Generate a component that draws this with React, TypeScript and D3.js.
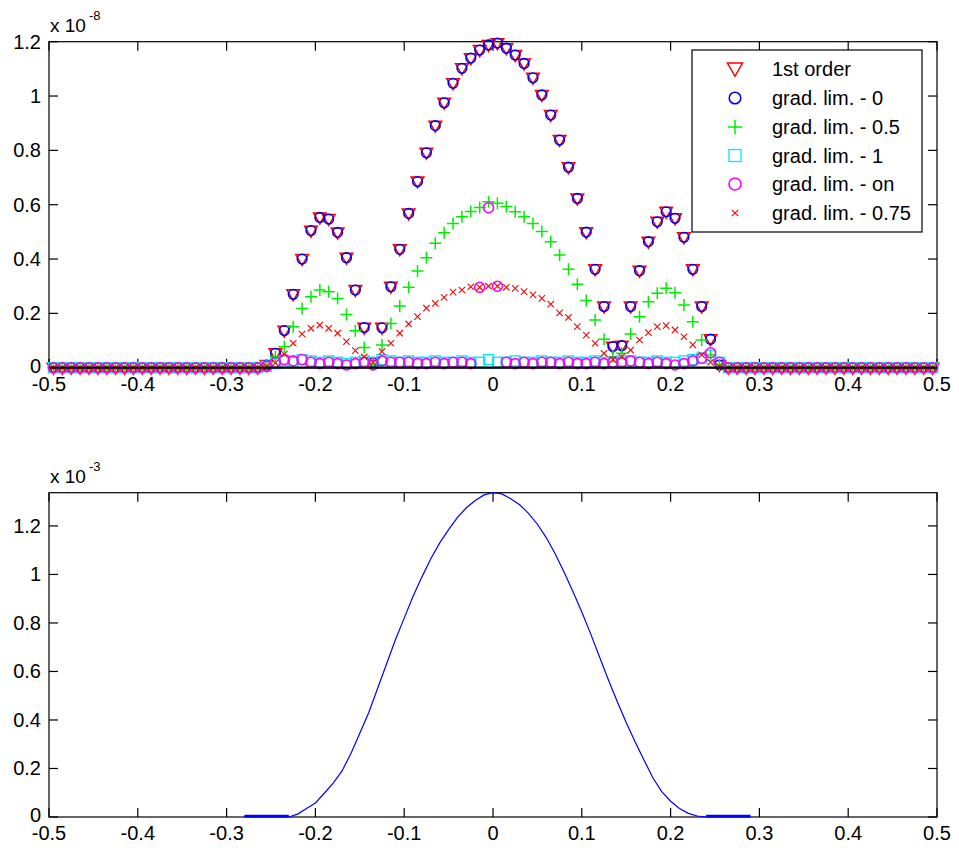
import React from "react";
import * as d3 from "d3";

// x grid: cell centres -0.495 .. 0.495 (step 0.01)
const xCells = [
  -0.495, -0.485, -0.475, -0.465, -0.455, -0.445, -0.435, -0.425, -0.415, -0.405,
  -0.395, -0.385, -0.375, -0.365, -0.355, -0.345, -0.335, -0.325, -0.315, -0.305,
  -0.295, -0.285, -0.275, -0.265, -0.255, -0.245, -0.235, -0.225, -0.215, -0.205,
  -0.195, -0.185, -0.175, -0.165, -0.155, -0.145, -0.135, -0.125, -0.115, -0.105,
  -0.095, -0.085, -0.075, -0.065, -0.055, -0.045, -0.035, -0.025, -0.015, -0.005,
  0.005, 0.015, 0.025, 0.035, 0.045, 0.055, 0.065, 0.075, 0.085, 0.095,
  0.105, 0.115, 0.125, 0.135, 0.145, 0.155, 0.165, 0.175, 0.185, 0.195,
  0.205, 0.215, 0.225, 0.235, 0.245, 0.255, 0.265, 0.275, 0.285, 0.295,
  0.305, 0.315, 0.325, 0.335, 0.345, 0.355, 0.365, 0.375, 0.385, 0.395,
  0.405, 0.415, 0.425, 0.435, 0.445, 0.455, 0.465, 0.475, 0.485, 0.495,
];

// values in units of 1e-8
const firstOrder = [
  0, 0, 0, 0, 0, 0, 0, 0, 0, 0,
  0, 0, 0, 0, 0, 0, 0, 0, 0, 0,
  0, 0, 0, 0, 0.01, 0.053, 0.136, 0.27, 0.4, 0.504,
  0.553, 0.547, 0.498, 0.405, 0.286, 0.147, 0.02, 0.147, 0.298, 0.436,
  0.568, 0.685, 0.791, 0.891, 0.975, 1.047, 1.102, 1.139, 1.169, 1.188,
  1.194, 1.176, 1.151, 1.12, 1.067, 1.004, 0.93, 0.838, 0.738, 0.623,
  0.499, 0.362, 0.225, 0.077, 0.081, 0.225, 0.357, 0.464, 0.537, 0.574,
  0.55, 0.48, 0.362, 0.225, 0.105, 0.01, 0, 0, 0, 0,
  0, 0, 0, 0, 0, 0, 0, 0, 0, 0,
  0, 0, 0, 0, 0, 0, 0, 0, 0, 0,
];
const gradLim0 = [
  0, 0, 0, 0, 0, 0, 0, 0, 0, 0,
  0, 0, 0, 0, 0, 0, 0, 0, 0, 0,
  0, 0, 0, 0, 0.01, 0.053, 0.137, 0.27, 0.4, 0.505,
  0.553, 0.547, 0.498, 0.405, 0.286, 0.148, 0.02, 0.147, 0.298, 0.436,
  0.568, 0.685, 0.791, 0.891, 0.975, 1.047, 1.102, 1.14, 1.169, 1.188,
  1.195, 1.176, 1.151, 1.12, 1.067, 1.004, 0.93, 0.838, 0.738, 0.623,
  0.499, 0.362, 0.225, 0.078, 0.081, 0.225, 0.357, 0.464, 0.537, 0.574,
  0.55, 0.48, 0.362, 0.225, 0.105, 0.01, 0, 0, 0, 0,
  0, 0, 0, 0, 0, 0, 0, 0, 0, 0,
  0, 0, 0, 0, 0, 0, 0, 0, 0, 0,
];
const gradLim05 = [
  0, 0, 0, 0, 0, 0, 0, 0, 0, 0,
  0, 0, 0, 0, 0, 0, 0, 0, 0, 0,
  0, 0, 0, 0, 0.01, 0.04, 0.077, 0.151, 0.218, 0.261,
  0.286, 0.28, 0.255, 0.196, 0.136, 0.074, 0.01, 0.084, 0.163, 0.227,
  0.296, 0.356, 0.405, 0.458, 0.497, 0.531, 0.556, 0.575, 0.59, 0.611,
  0.605, 0.593, 0.574, 0.556, 0.531, 0.501, 0.464, 0.415, 0.362, 0.307,
  0.247, 0.176, 0.105, 0.04, 0.053, 0.124, 0.188, 0.243, 0.274, 0.292,
  0.276, 0.231, 0.169, 0.102, 0.047, 0.01, 0, 0, 0, 0,
  0, 0, 0, 0, 0, 0, 0, 0, 0, 0,
  0, 0, 0, 0, 0, 0, 0, 0, 0, 0,
];
const gradLim1 = [
  0, 0, 0, 0, 0, 0, 0, 0, 0, 0,
  0, 0, 0, 0, 0, 0, 0, 0, 0, 0,
  0, 0, 0, 0, 0.005, 0.015, 0.025, 0.02, 0.03, 0.025,
  0.02, 0.025, 0.02, 0.015, 0.02, 0.025, 0.02, 0.03, 0.025, 0.02,
  0.025, 0.02, 0.02, 0.025, 0.02, 0.02, 0.025, 0.02, 0.02, 0.03,
  0.02, 0.02, 0.025, 0.02, 0.02, 0.025, 0.02, 0.02, 0.025, 0.02,
  0.02, 0.025, 0.02, 0.02, 0.025, 0.025, 0.02, 0.02, 0.025, 0.02,
  0.02, 0.025, 0.03, 0.035, 0.045, 0.02, 0, 0, 0, 0,
  0, 0, 0, 0, 0, 0, 0, 0, 0, 0,
  0, 0, 0, 0, 0, 0, 0, 0, 0, 0,
];
const gradLimOn = [
  0, 0, 0, 0, 0, 0, 0, 0, 0, 0,
  0, 0, 0, 0, 0, 0, 0, 0, 0, 0,
  0, 0, 0, 0, 0.005, 0.02, 0.03, 0.025, 0.03, 0.02,
  0.015, 0.02, 0.015, 0.01, 0.015, 0.02, 0.01, 0.025, 0.02, 0.02,
  0.02, 0.015, 0.015, 0.02, 0.015, 0.02, 0.02, 0.015, 0.296, 0.589,
  0.3, 0.02, 0.015, 0.02, 0.015, 0.02, 0.02, 0.015, 0.02, 0.015,
  0.015, 0.02, 0.015, 0.02, 0.02, 0.025, 0.02, 0.015, 0.02, 0.015,
  0.01, 0.015, 0.025, 0.035, 0.055, 0.02, 0, 0, 0, 0,
  0, 0, 0, 0, 0, 0, 0, 0, 0, 0,
  0, 0, 0, 0, 0, 0, 0, 0, 0, 0,
];
const gradLim075 = [
  0, 0, 0, 0, 0, 0, 0, 0, 0, 0,
  0, 0, 0, 0, 0, 0, 0, 0, 0, 0,
  0, 0, 0, 0, 0.005, 0.018, 0.05, 0.09, 0.124, 0.145,
  0.157, 0.145, 0.127, 0.096, 0.063, 0.04, 0.02, 0.059, 0.09, 0.127,
  0.161, 0.188, 0.219, 0.237, 0.259, 0.278, 0.286, 0.298, 0.296, 0.3,
  0.3, 0.296, 0.292, 0.28, 0.268, 0.255, 0.234, 0.202, 0.185, 0.151,
  0.12, 0.09, 0.053, 0.03, 0.04, 0.065, 0.102, 0.129, 0.151, 0.155,
  0.139, 0.114, 0.084, 0.047, 0.02, 0.005, 0, 0, 0, 0,
  0, 0, 0, 0, 0, 0, 0, 0, 0, 0,
  0, 0, 0, 0, 0, 0, 0, 0, 0, 0,
];

const seriesNames = [
  "1st order",
  "grad. lim. - 0",
  "grad. lim. - 0.5",
  "grad. lim. - 1",
  "grad. lim. - on",
  "grad. lim. - 0.75",
];

// bottom panel (units of 1e-3)
const xLine = [
  -0.28, -0.27, -0.26, -0.25, -0.24, -0.23, -0.22, -0.21, -0.2, -0.19,
  -0.18, -0.17, -0.16, -0.15, -0.14, -0.13, -0.12, -0.11, -0.1, -0.09,
  -0.08, -0.07, -0.06, -0.05, -0.04, -0.03, -0.02, -0.01, 0, 0.01,
  0.02, 0.03, 0.04, 0.05, 0.06, 0.07, 0.08, 0.09, 0.1, 0.11,
  0.12, 0.13, 0.14, 0.15, 0.16, 0.17, 0.18, 0.19, 0.2, 0.21,
  0.22, 0.23, 0.24, 0.25, 0.26, 0.27, 0.28, 0.29,
];
const yLine = [
  0, 0, 0, 0, 0, 0, 0.012, 0.035, 0.058, 0.098,
  0.14, 0.19, 0.262, 0.345, 0.43, 0.53, 0.63, 0.73, 0.82, 0.91,
  0.99, 1.065, 1.13, 1.185, 1.235, 1.275, 1.305, 1.328, 1.337, 1.332,
  1.312, 1.287, 1.252, 1.207, 1.152, 1.085, 1.01, 0.93, 0.845, 0.755,
  0.66, 0.565, 0.475, 0.39, 0.31, 0.235, 0.162, 0.105, 0.065, 0.035,
  0.015, 0.004, 0, 0, 0, 0, 0, 0,
];

const xTicks = [-0.5, -0.4, -0.3, -0.2, -0.1, 0, 0.1, 0.2, 0.3, 0.4, 0.5];
const xTickLabels = ["-0.5", "-0.4", "-0.3", "-0.2", "-0.1", "0", "0.1", "0.2", "0.3", "0.4", "0.5"];
const yTicks = [0, 0.2, 0.4, 0.6, 0.8, 1, 1.2];
const yTickLabels = ["0", "0.2", "0.4", "0.6", "0.8", "1", "1.2"];

const FONT = "'Liberation Sans', Arial, Helvetica, sans-serif";
const L = 49, R = 937;
const TOP1 = 41.7, BOT1 = 367.7;
const TOP2 = 492.7, BOT2 = 817;
const TICK = 9;

const colors = ["#ff0000", "#0000ff", "#00ee00", "#00e8ff", "#ff00ff", "#ff0000"];

function Marker({ kind, x, y, big }: { kind: number; x: number; y: number; big?: boolean }) {
  const c = colors[kind];
  const s = big ? 1.2 : 1;
  if (kind === 0)
    return (
      <path
        d={`M${x - 6.3 * s},${y - 4.5 * s}L${x + 6.3 * s},${y - 4.5 * s}L${x},${y + 6.5 * s}Z`}
        fill="none"
        stroke={c}
        strokeWidth={1.5}
      />
    );
  if (kind === 1 || kind === 4)
    return (
      <circle
        cx={x}
        cy={y}
        r={(kind === 1 ? 4.8 : 5) * s}
        fill="none"
        stroke={c}
        strokeWidth={1.6}
      />
    );
  if (kind === 2)
    return (
      <path
        d={`M${x - 6 * s},${y}H${x + 6 * s}M${x},${y - 6 * s}V${y + 6 * s}`}
        stroke={c}
        strokeWidth={1.5}
      />
    );
  if (kind === 3)
    return (
      <rect
        x={x - 5 * s}
        y={y - 5 * s}
        width={10 * s}
        height={10 * s}
        fill="none"
        stroke={c}
        strokeWidth={1.3}
      />
    );
  return (
    <path
      d={`M${x - 3.2},${y - 3.2}L${x + 3.2},${y + 3.2}M${x - 3.2},${y + 3.2}L${x + 3.2},${y - 3.2}`}
      stroke={c}
      strokeWidth={1.1}
    />
  );
}

function Frame({
  top,
  bottom,
  y,
  xS,
}: {
  top: number;
  bottom: number;
  y: d3.ScaleLinear<number, number>;
  xS: d3.ScaleLinear<number, number>;
}) {
  return (
    <g>
      <rect x={L} y={top} width={R - L} height={bottom - top} fill="none" stroke="#000" strokeWidth={1.2} />
      {xTicks.map((t, i) => (
        <g key={"x" + i}>
          <line x1={xS(t)} x2={xS(t)} y1={bottom} y2={bottom - TICK} stroke="#000" strokeWidth={1.2} />
          <line x1={xS(t)} x2={xS(t)} y1={top} y2={top + TICK} stroke="#000" strokeWidth={1.2} />
          <text
            x={xS(t)}
            y={bottom + 23}
            textAnchor="middle"
            fontFamily={FONT}
            fontSize={20}
            fill="#000"
          >
            {xTickLabels[i]}
          </text>
        </g>
      ))}
      {yTicks.map((t, i) => (
        <g key={"y" + i}>
          <line x1={L} x2={L + TICK} y1={y(t)} y2={y(t)} stroke="#000" strokeWidth={1.2} />
          <line x1={R} x2={R - TICK} y1={y(t)} y2={y(t)} stroke="#000" strokeWidth={1.2} />
          <text
            x={41}
            y={y(t) + (t === 0 ? 5 : 7)}
            textAnchor="end"
            fontFamily={FONT}
            fontSize={20}
            fill="#000"
          >
            {yTickLabels[i]}
          </text>
        </g>
      ))}
    </g>
  );
}

export default function App() {
  const x = d3.scaleLinear().domain([-0.5, 0.5]).range([L, R]);
  const y1 = d3.scaleLinear().domain([0, 1.2]).range([BOT1, TOP1]);
  const y2 = d3.scaleLinear().domain([0, 1.337]).range([BOT2, TOP2]);

  const series = [firstOrder, gradLim0, gradLim05, gradLim1, gradLimOn, gradLim075];

  const line = d3
    .line<number>()
    .x((_, i) => x(xLine[i]))
    .y((d) => y2(d));
  const pathAll = line(yLine) || "";

  // flat zero segments drawn thicker
  const zeroIdx = yLine.map((v, i) => i).filter((i) => yLine[i] === 0);
  const leftZero = zeroIdx.filter((i) => xLine[i] < 0);
  const rightZero = zeroIdx.filter((i) => xLine[i] > 0);

  const legendRows = [68.5, 98, 127, 155.5, 184, 213];

  return (
    <svg
      width={959}
      height={848}
      style={{ position: "absolute", left: 0, top: 0, background: "#fff" }}
    >
      <rect x={0} y={0} width={959} height={848} fill="#fff" />
      {/* top panel */}
      <Frame top={TOP1} bottom={BOT1} y={y1} xS={x} />
      <g>
        {series.map((s, k) => (
          <g key={k}>
            {s.map((v, i) => (
              <Marker key={i} kind={k} x={x(xCells[i])} y={y1(v)} />
            ))}
          </g>
        ))}
      </g>
      <line x1={L} x2={R} y1={y1(0)} y2={y1(0)} stroke="#000" strokeWidth={2.2} />
      <text x={50} y={32} fontFamily={FONT} fontSize={19} fill="#000">
        x 10
      </text>
      <text x={89} y={20} fontFamily={FONT} fontSize={13} fill="#000">
        -8
      </text>

      {/* legend */}
      <rect x={692} y={50} width={230} height={182} fill="#fff" stroke="#000" strokeWidth={1.2} />
      {seriesNames.map((n, k) => (
        <g key={n}>
          <Marker kind={k} x={735} y={legendRows[k]} big />
          <text x={772} y={legendRows[k] + 7} fontFamily={FONT} fontSize={20} fill="#000">
            {n}
          </text>
        </g>
      ))}

      {/* bottom panel */}
      <Frame top={TOP2} bottom={BOT2} y={y2} xS={x} />
      <path d={pathAll} fill="none" stroke="#0000ff" strokeWidth={1.2} />
      {[leftZero, rightZero].map((idx, j) =>
        idx.length > 1 ? (
          <line
            key={j}
            x1={x(xLine[idx[0]])}
            x2={x(xLine[idx[idx.length - 1]])}
            y1={y2(0) - 1}
            y2={y2(0) - 1}
            stroke="#0000ff"
            strokeWidth={2.5}
          />
        ) : null
      )}
      <text x={50} y={483} fontFamily={FONT} fontSize={19} fill="#000">
        x 10
      </text>
      <text x={89} y={471} fontFamily={FONT} fontSize={13} fill="#000">
        -3
      </text>
    </svg>
  );
}
